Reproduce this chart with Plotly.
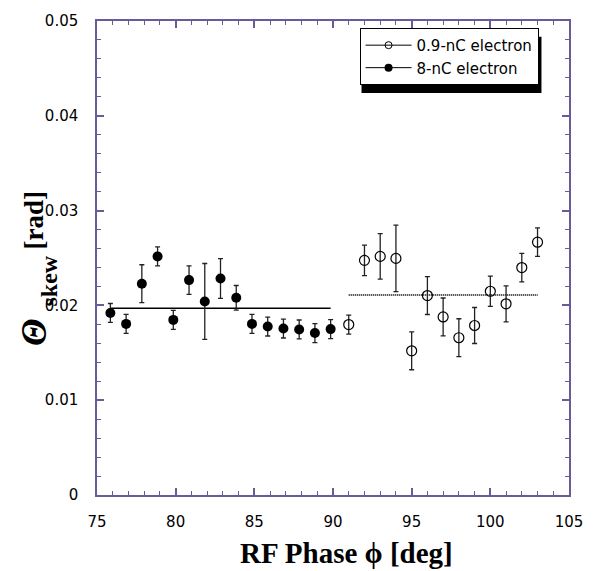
import plotly.graph_objects as go

# 8-nC electron (filled)
x_8nc = [75.85, 76.85, 77.85, 78.85, 79.85, 80.85, 81.85, 82.85, 83.85,
         84.85, 85.85, 86.85, 87.85, 88.85, 89.85]
y_8nc = [0.0192, 0.01805, 0.02229, 0.02517, 0.01847, 0.02267, 0.02042, 0.02284,
         0.0208, 0.01805, 0.01777, 0.01756, 0.01746, 0.01708, 0.0175]
e_8nc = [0.001, 0.001, 0.002, 0.001, 0.001, 0.0015, 0.004, 0.0021, 0.0013,
         0.001, 0.001, 0.001, 0.001, 0.001, 0.001]
mean_8nc = 0.0197

# 0.9-nC electron (open)
x_09nc = [91, 92, 93, 94, 95, 96, 97, 98, 99, 100, 101, 102, 103]
y_09nc = [0.01798, 0.02475, 0.02517, 0.02496, 0.01521, 0.02104, 0.01878,
          0.01659, 0.01788, 0.02149, 0.02017, 0.02399, 0.02667]
e_09nc = [0.001, 0.0016, 0.0024, 0.0035, 0.002, 0.002, 0.002, 0.002, 0.0019,
          0.0016, 0.0019, 0.0015, 0.0015]
mean_09nc = 0.0211

x_ticks = [75, 80, 85, 90, 95, 100, 105]
y_ticks = [0, 0.01, 0.02, 0.03, 0.04, 0.05]
y_tick_labels = ["0", "0.01", "0.02", "0.03", "0.04", "0.05"]

AX = "#6a5a98"
TICKFONT = dict(family="DejaVu Sans", size=15, color="black")

fig = go.Figure()

# mean lines
fig.add_trace(go.Scatter(x=[min(x_8nc), max(x_8nc)], y=[mean_8nc, mean_8nc], mode="lines",
                         line=dict(color="black", width=1.3), showlegend=False, hoverinfo="skip"))
fig.add_trace(go.Scatter(x=[min(x_09nc), max(x_09nc)], y=[mean_09nc, mean_09nc], mode="lines",
                         line=dict(color="#222", width=2, dash="1px,1px"), showlegend=False, hoverinfo="skip"))

# data
fig.add_trace(go.Scatter(x=x_8nc, y=y_8nc, mode="markers", showlegend=False,
                         marker=dict(symbol="circle", size=10, color="black"),
                         error_y=dict(type="data", array=e_8nc, color="#222", thickness=1.3, width=2.5)))
fig.add_trace(go.Scatter(x=x_09nc, y=y_09nc, mode="markers", showlegend=False,
                         marker=dict(symbol="circle-open", size=10, color="black", line=dict(width=1.2)),
                         error_y=dict(type="data", array=e_09nc, color="#222", thickness=1.3, width=2.5)))

# legend entries
fig.add_trace(go.Scatter(x=[None], y=[None], mode="lines+markers", name="0.9-nC electron",
                         line=dict(color="black", width=1),
                         marker=dict(symbol="circle-open", size=7, color="black", line=dict(width=1))))
fig.add_trace(go.Scatter(x=[None], y=[None], mode="lines+markers", name="8-nC electron",
                         line=dict(color="black", width=1),
                         marker=dict(symbol="circle", size=8, color="black")))

# legend shadow
fig.add_shape(type="rect", xref="paper", yref="paper",
              x0=(366 - 97) / 480, x1=(549 - 97) / 480,
              y0=(495 - 88) / 480, y1=(495 - 31) / 480,
              fillcolor="black", line=dict(width=0), layer="below")


def ytitle(text, xpx, ypx, size):
    return dict(text=text, xref="paper", yref="paper",
                x=-(97 - xpx) / 480, y=(495 - ypx) / 480, xanchor="center", yanchor="middle",
                textangle=-90, showarrow=False,
                font=dict(family="Liberation Serif", size=size, color="black"))


fig.update_layout(
    width=595, height=571,
    margin=dict(l=97, r=18, t=15, b=76),
    paper_bgcolor="white", plot_bgcolor="white",
    showlegend=True,
    legend=dict(x=(364 - 97) / 480, y=(495 - 22) / 480, xanchor="left", yanchor="top",
                bgcolor="white", bordercolor="black", borderwidth=1,
                font=dict(family="DejaVu Sans", size=15, color="black"),
                tracegroupgap=0, itemwidth=46),
    xaxis=dict(range=[75, 105], tickvals=x_ticks, ticktext=[str(v) for v in x_ticks],
               ticks="inside", ticklen=7, tickwidth=1.5, tickcolor=AX,
               showline=True, linecolor=AX, linewidth=1.5, mirror="ticks",
               showgrid=False, zeroline=False, tickfont=TICKFONT, ticklabelstandoff=12,
               minor=dict(dtick=1, ticks="inside", ticklen=4, tickwidth=1.2, tickcolor=AX, showgrid=False)),
    yaxis=dict(range=[0, 0.05], tickvals=y_ticks, ticktext=y_tick_labels,
               ticks="inside", ticklen=7, tickwidth=1.5, tickcolor=AX,
               showline=True, linecolor=AX, linewidth=1.5, mirror="ticks",
               showgrid=False, zeroline=False, tickfont=TICKFONT, ticklabelstandoff=14,
               minor=dict(dtick=0.002, ticks="inside", ticklen=4, tickwidth=1.2, tickcolor=AX, showgrid=False)),
    annotations=[
        dict(text="<b>RF Phase ϕ [deg]</b>", xref="paper", yref="paper",
             x=(351 - 97) / 480, y=-(554 - 495) / 480, xanchor="center", yanchor="middle",
             showarrow=False, font=dict(family="Liberation Serif", size=29, color="black")),
        ytitle("<b><i>Θ</i></b>", 33, 331, 36),
        ytitle("<b>skew</b>", 48, 278, 24),
        ytitle("<b>[rad]</b>", 33, 217, 27),
    ],
)

fig.write_html("out.html")
